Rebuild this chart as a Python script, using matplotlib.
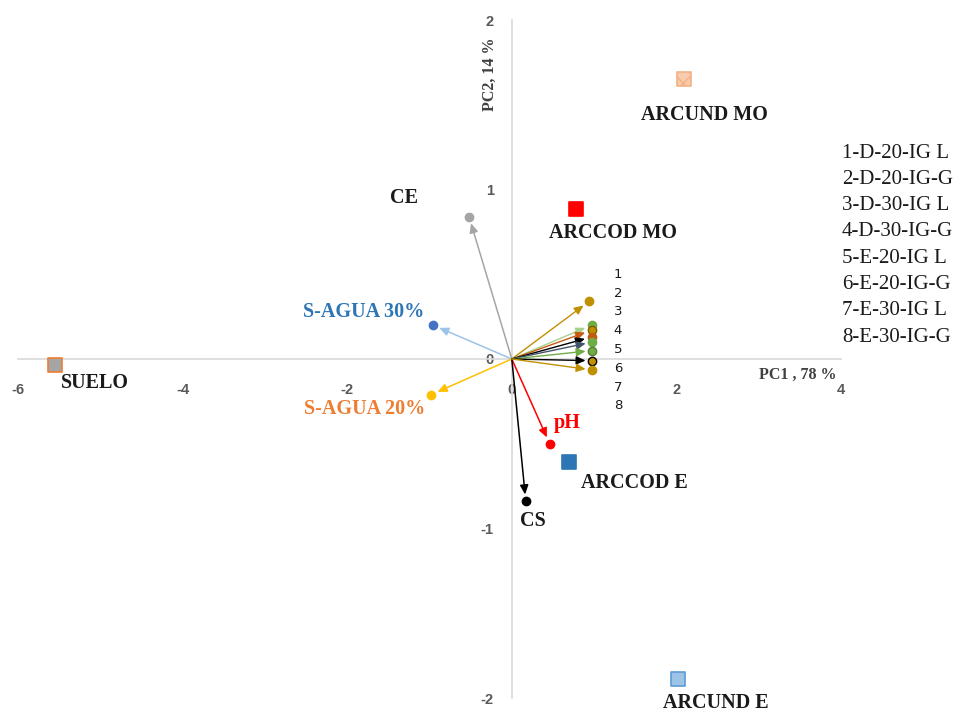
import numpy as np
import matplotlib
matplotlib.use("Agg")
import matplotlib.pyplot as plt

# sample scores (PC1, PC2)
samples = ["SUELO", "ARCUND MO", "ARCCOD MO", "ARCCOD E", "ARCUND E"]
sample_pc1 = [-5.55, 2.09, 0.78, 0.70, 2.02]
sample_pc2 = [-0.035, 1.65, 0.885, -0.61, -1.89]

# soil variable loadings
variables = ["CE", "S-AGUA 30%", "S-AGUA 20%", "pH", "CS"]
var_pc1 = [-0.52, -0.96, -0.98, 0.46, 0.17]
var_pc2 = [0.84, 0.20, -0.21, -0.50, -0.84]

# treatment loadings 1..8
treatments = ["1-D-20-IG L", "2-D-20-IG-G", "3-D-30-IG L", "4-D-30-IG-G",
              "5-E-20-IG L", "6-E-20-IG-G", "7-E-30-IG L", "8-E-30-IG-G"]
treat_pc1 = [0.94, 0.97, 0.97, 0.97, 0.98, 0.98, 0.98, 0.98]
treat_pc2 = [0.34, 0.20, 0.17, 0.13, 0.10, 0.05, -0.01, -0.065]

x_ticks = [-6, -4, -2, 0, 2, 4]
y_ticks = [-2, -1, 0, 1, 2]

fig = plt.figure(figsize=(9.63, 7.13), dpi=100)
ax = fig.add_axes([18 / 963, 15 / 713, 823 / 963, 678 / 713])
ax.set_xlim(-6, 4)
ax.set_ylim(-2, 2)

for s in ["left", "bottom"]:
    ax.spines[s].set_position("zero")
    ax.spines[s].set_color("#d9d9d9")
    ax.spines[s].set_linewidth(1.2)
for s in ["right", "top"]:
    ax.spines[s].set_visible(False)

ax.set_xticks(x_ticks)
ax.set_yticks(y_ticks)
ax.set_xticklabels([str(t) for t in x_ticks])
ax.set_yticklabels([str(t) for t in y_ticks])
ax.tick_params(length=0, labelsize=10.5, labelcolor="#595959")
ax.tick_params(axis="x", pad=17)
ax.tick_params(axis="y", pad=13)
for lab in ax.get_xticklabels() + ax.get_yticklabels():
    lab.set_fontweight("bold")
    lab.set_family("Liberation Sans")

serif = "Liberation Serif"

# sample squares
sq_face = ["#a5a5a5", "#f8cbad", "#ff0000", "#2e75b6", "#9dc3e6"]
sq_edge = ["#ed7d31", "#f4b183", "#ff0000", "#2e75b6", "#5b9bd5"]
sq_hatch = [None, "xx", None, None, None]
sq_off = [(40, -18), (21, -36), (37, -24), (65, -21), (38, -24)]
for i, name in enumerate(samples):
    ax.scatter(sample_pc1[i], sample_pc2[i], marker="s", s=100, c=sq_face[i],
               edgecolors=sq_edge[i], linewidths=1.2, hatch=sq_hatch[i],
               zorder=4, clip_on=False)
    ax.annotate(name, (sample_pc1[i], sample_pc2[i]), xytext=sq_off[i],
                textcoords="offset pixels", ha="center", va="center",
                fontsize=14.5, fontweight="bold", family=serif, color="#1a1a1a",
                annotation_clip=False)

# variable vectors
var_line = ["#a5a5a5", "#9dc3e6", "#ffc000", "#ff0000", "#000000"]
var_dot = ["#a5a5a5", "#4472c4", "#ffc000", "#ff0000", "#000000"]
var_text = ["#1a1a1a", "#2e75b6", "#ed7d31", "#ff0000", "#1a1a1a"]
var_off = [(-65, 19), (-69, 13), (-67, -14), (18, 21), (7, -20)]
for i, name in enumerate(variables):
    ax.annotate("", xy=(var_pc1[i], var_pc2[i]), xytext=(0, 0),
                arrowprops=dict(arrowstyle="-|>,head_length=0.55,head_width=0.25",
                                color=var_line[i], lw=1.1, shrinkA=0, shrinkB=5),
                zorder=3)
    ax.plot(var_pc1[i], var_pc2[i], "o", ms=6, color=var_dot[i], zorder=4)
    ax.annotate(name, (var_pc1[i], var_pc2[i]), xytext=var_off[i],
                textcoords="offset pixels", ha="center", va="center",
                fontsize=14.5, fontweight="bold", family=serif, color=var_text[i])

# treatment vectors
tr_line = ["#bf9000", "#a9d18e", "#c55a11", "#000000",
           "#44546a", "#70ad47", "#000000", "#bf9000"]
tr_dot = ["#bf9000", "#70ad47", "#bf9000", "#c55a11",
          "#70ad47", "#70ad47", "#bf9000", "#bf9000"]
tr_edge = ["#bf9000", "#70ad47", "#7f6000", "#c55a11",
           "#70ad47", "#548235", "#000000", "#bf9000"]
for i in range(len(treatments)):
    ax.annotate("", xy=(treat_pc1[i], treat_pc2[i]), xytext=(0, 0),
                arrowprops=dict(arrowstyle="-|>,head_length=0.55,head_width=0.25",
                                color=tr_line[i], lw=1.0, shrinkA=0, shrinkB=5),
                zorder=3)
    ax.plot(treat_pc1[i], treat_pc2[i], "o", ms=6, color=tr_dot[i],
            mec=tr_edge[i], mew=1.0, zorder=4)

# small index numbers next to the treatment vectors
for i in range(len(treatments)):
    ax.text(1.29, 0.50 - 0.111 * i, str(i + 1), ha="center", va="center",
            fontsize=9.5, family="DejaVu Sans", color="#1a1a1a")

# axis titles
ax.text(3.47, -0.095, "PC1 , 78 %", ha="center", va="center", fontsize=11.5,
        fontweight="bold", family=serif, color="#404040")
ax.text(-0.27, 1.68, "PC2, 14 %", ha="center", va="center", rotation=90,
        fontsize=11.5, fontweight="bold", family=serif, color="#404040")

# treatment key on the right
for i, name in enumerate(treatments):
    fig.text(842 / 963, 1 - (153 + 26.3 * i) / 713, name, ha="left", va="center",
             fontsize=15, family=serif, color="#1a1a1a")

fig.savefig("out.png", dpi=100)
